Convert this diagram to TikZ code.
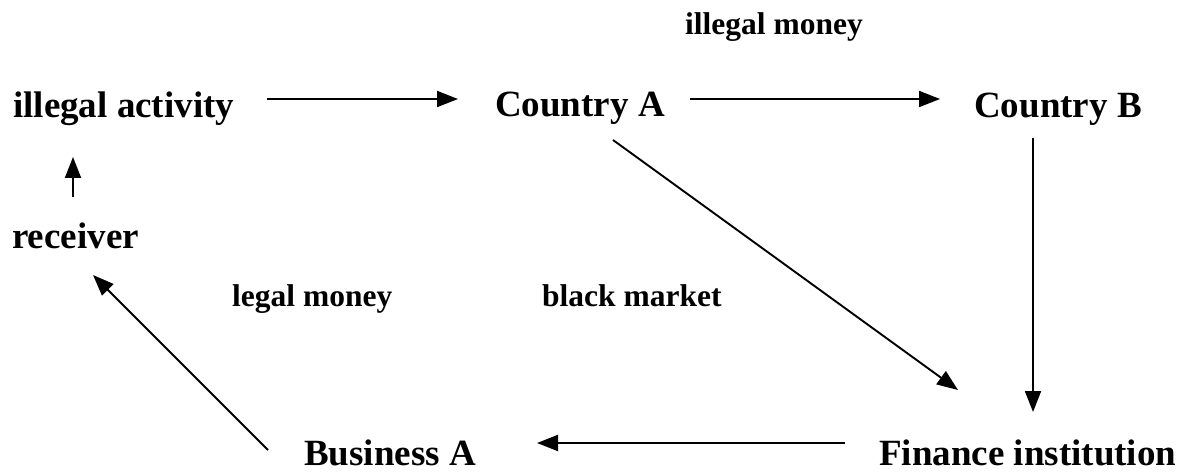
\documentclass[tikz,border=0pt]{standalone}
\usepackage{fontspec}
\setmainfont{Liberation Serif}
\usetikzlibrary{arrows.meta}
\begin{document}
\begin{tikzpicture}[x=1pt,y=-1pt,
  place/.style={inner sep=0pt,anchor=base west,font=\fontsize{37}{41}\selectfont\bfseries},
  tag/.style={inner sep=0pt,anchor=base west,font=\fontsize{31.5}{35}\selectfont\bfseries},
  flow/.style={line width=1.9pt,-{Triangle[length=21pt,width=16pt]}}]
\useasboundingbox (0,0) rectangle (1198,473);
% places
\node[place] (act) at (13,118) {illegal activity};
\node[place] (ca)  at (495,117) {Country A};
\node[place] (cb)  at (974,118) {Country B};
\node[place] (rec) at (12,248) {receiver};
\node[place] (ba)  at (304,465) {Business A};
\node[place] (fi)  at (879,465) {Finance institution};
% flow labels
\node[tag] (im) at (685,35) {illegal money};
\node[tag] (lm) at (232,306) {legal money};
\node[tag] (bm) at (542,306) {black market};
% flows
\draw[flow] ([shift={(254,-19)}]act.base west) -- ([shift={(-37,-18)}]ca.base west);
\draw[flow] ([shift={(195,-18)}]ca.base west) -- ([shift={(-34,-19)}]cb.base west);
\draw[flow] ([shift={(61,-51)}]rec.base west) -- ([shift={(60,39)}]act.base west);
\draw[flow] ([shift={(118,23)}]ca.base west) -- ([shift={(79,-75)}]fi.base west);
\draw[flow] ([shift={(59,20)}]cb.base west) -- ([shift={(154,-53)}]fi.base west);
\draw[flow] ([shift={(-34,-22)}]fi.base west) -- ([shift={(233,-22)}]ba.base west);
\draw[flow] ([shift={(-36,-15)}]ba.base west) -- ([shift={(81,27)}]rec.base west);
\end{tikzpicture}
\end{document}
